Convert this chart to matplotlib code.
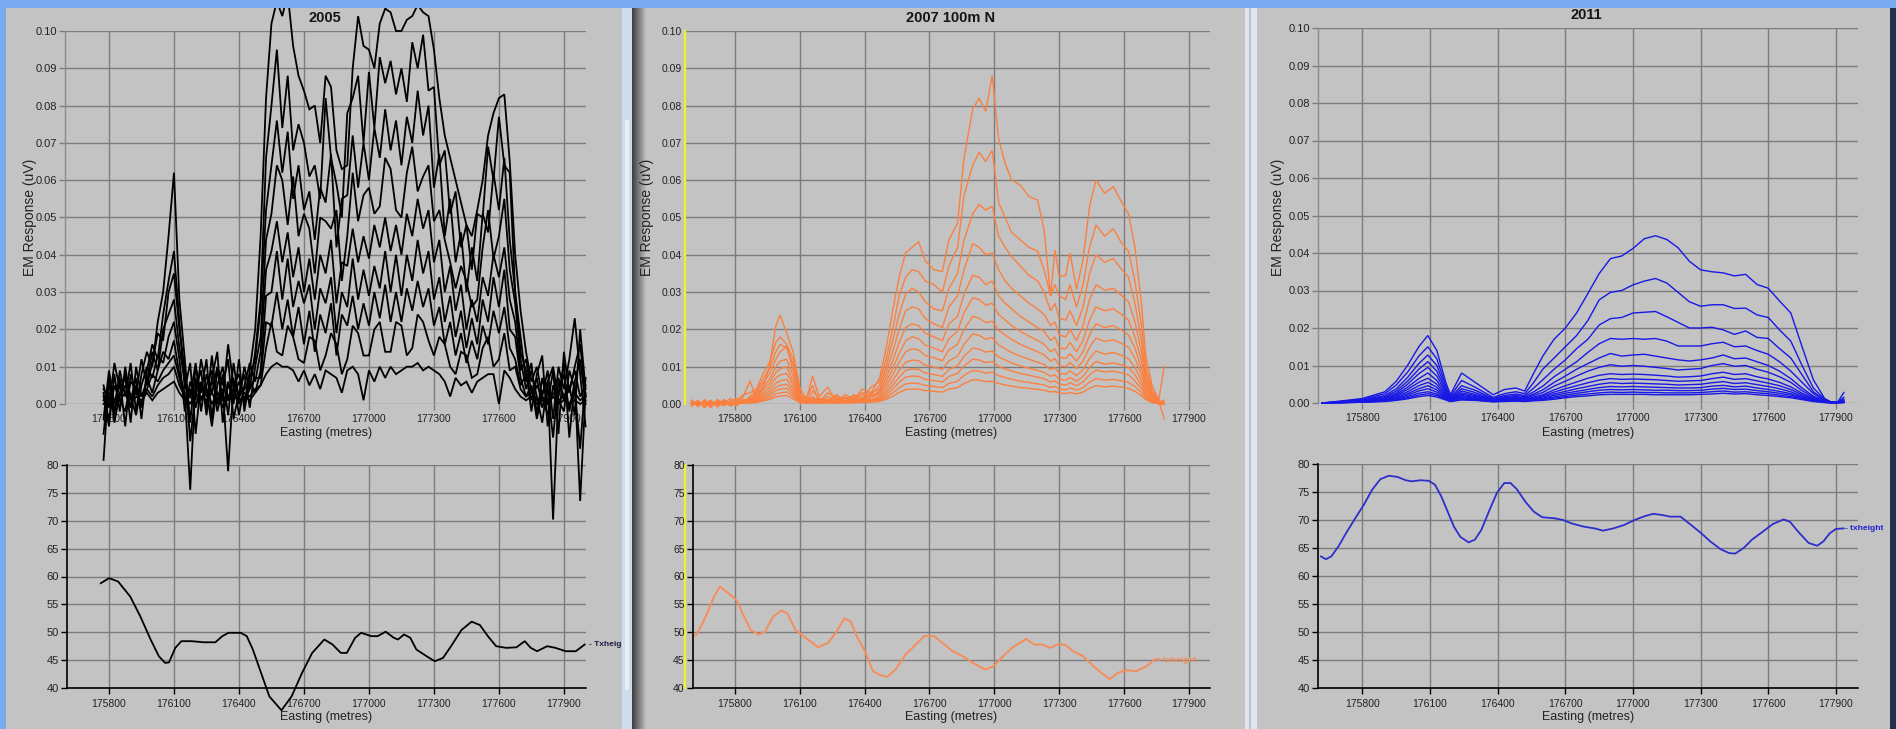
import matplotlib
matplotlib.use("Agg")
import matplotlib.pyplot as plt
from matplotlib.patches import Rectangle
from matplotlib.lines import Line2D
from matplotlib.ticker import FormatStrFormatter

plt.rcParams['font.family'] = ['Liberation Sans', 'DejaVu Sans']

W, H = 1896, 729

# ---------------- data ----------------
easting_ticks = [175800, 176100, 176400, 176700, 177000, 177300, 177600, 177900]
em_ticks = [0.00, 0.01, 0.02, 0.03, 0.04, 0.05, 0.06, 0.07, 0.08, 0.09, 0.10]
h_ticks = [40, 45, 50, 55, 60, 65, 70, 75, 80]

# 2005 EM channels, values in 1e-3 uV
e_2005 = [175775, 175800, 175825, 175850, 175875, 175900, 175925, 175950, 175975, 176000,
          176025, 176050, 176075, 176100, 176125, 176150, 176175, 176200, 176225, 176250,
          176275, 176300, 176325, 176350, 176375, 176400, 176425, 176450, 176475, 176500,
          176525, 176550, 176575, 176600, 176625, 176650, 176675, 176700, 176725, 176750,
          176775, 176800, 176825, 176850, 176875, 176900, 176925, 176950, 176975, 177000,
          177025, 177050, 177075, 177100, 177125, 177150, 177175, 177200, 177225, 177250,
          177275, 177300, 177325, 177350, 177375, 177400, 177425, 177450, 177475, 177500,
          177525, 177550, 177575, 177600, 177625, 177650, 177675, 177700, 177725, 177750,
          177775, 177800, 177825, 177850, 177875, 177900, 177925, 177950, 177975, 178000]
em05_ch1 = [-8, 6, -3, 9, 2, 11, -2, 8, 14, 10,
            22, 30, 45, 62, 28, 12, -5, 10, 3, 12,
            -4, 9, 2, 16, 5, 8, 0, 9, 20, 45,
            82, 102, 108, 104, 110, 96, 88, 84, 79, 80,
            70, 88, 85, 68, 63, 64, 90, 104, 96, 95,
            90, 102, 106, 105, 100, 100, 103, 104, 107, 105,
            104, 95, 82, 72, 66, 60, 54, 48, 45, 52,
            60, 72, 78, 82, 83, 65, 40, 25, 14, 6,
            10, 2, 9, -4, 10, 4, 12, 23, 8, -6]
em05_ch2 = [3, -6, 8, -2, 10, 1, 7, -4, 9, 16, 12, 24, 33, 41, 22, 4, 11, -8, 6, -1,
            13, 0, 8, -3, 11, 1, 10, 4, 14,
            28, 66, 80, 95, 74, 88, 68, 75, 70, 61, 64, 55, 82, 66, 59, 50, 78, 82, 88, 70,
            89, 74, 93, 86, 92, 83, 90, 81, 97, 90, 99, 84, 85, 64, 68, 51, 57, 42, 48, 36,
            51, 50, 69, 60, 77, 64, 62, 30,
            18, 6, 11, -3, 7, 0, 9, -8, 14, 3, 10, 16, 2]
em05_ch3 = [-4, 9, 0, 7, -6, 8, 3, 12, 5, 11, 19, 17, 30, 35, 20, 9, -10, 4, 9, -3,
            7, 14, -5, 6, 0, 12, -2, 7, 12,
            26, 52, 64, 76, 62, 73, 55, 64, 52, 57, 44, 58, 54, 67, 42, 55, 56, 72, 58, 70,
            60, 74, 66, 79, 68, 76, 64, 77, 70, 84, 72, 80, 58, 67, 45, 55, 38, 46, 30, 42,
            33, 51, 46, 62, 52, 66, 44, 30,
            14, 9, -2, 8, 13, -6, 5, 2, 11, -9, 6, 12, 0]
em05_ch4 = [5, -1, 11, 4, 7, -5, 10, 2, 6, 14, 9, 20, 24, 28, 15, 6, 2, 11, -2, 8,
            3, 10, 5, 12, -4, 3, 8, -1, 10,
            18, 44, 51, 64, 60, 48, 61, 45, 51, 47, 35, 50, 49, 47, 52, 33, 45, 62, 49, 56,
            58, 51, 53, 66, 63, 52, 50, 62, 69, 57, 61, 64, 49, 52, 44, 38, 31, 37, 33, 26,
            28, 42, 52, 39, 45, 55, 36, 27,
            12, 4, 9, 2, -5, 6, 10, 1, -2, 9, 4, -12, 7]
em05_ch5 = [-15, 7, -5, 3, 8, 2, -3, 5, 10, 7, 13, 11, 18, 22, 12, -2, 6, 1, 12, 4,
            -6, 5, 10, 1, 7, -3, 5, 11, 6,
            14, 36, 41, 49, 38, 46, 34, 42, 30, 39, 28, 40, 35, 44, 27, 38, 37, 47, 38, 45,
            39, 48, 42, 50, 41, 48, 40, 51, 45, 55, 47, 52, 38, 44, 30, 37, 25, 32, 20, 28,
            22, 34, 29, 40, 34, 42, 28, 22,
            9, 12, 3, 7, -1, 4, -9, 6, 2, 5, -3, 20, 4]
em05_ch6 = [2, -4, 5, 1, -2, 6, 4, -1, 7, 3, 9, 14, 12, 17, 8, 3, -23, 7, 1, 5,
            9, -2, 4, -18, 6, 2, 4, 6, 3,
            9, 29, 30, 41, 28, 39, 26, 33, 27, 32, 20, 31, 27, 34, 19, 30, 26, 39, 28, 36,
            29, 37, 31, 41, 30, 40, 29, 40, 33, 44, 35, 41, 28, 34, 22, 29, 18, 25, 15, 23,
            16, 28, 22, 34, 26, 36, 20, 18,
            7, 2, 5, -4, 3, 6, -31, 3, 8, -2, 6, -26, 3]
em05_ch7 = [4, 1, -2, 6, 3, -1, 5, 2, 4, 8, 6, 9, 11, 13, 7, 1, 4, -1, 5, 2,
            6, 3, -1, 5, 2, 6, 1, 4, 7,
            7, 22, 21, 30, 20, 28, 18, 26, 16, 25, 14, 24, 19, 27, 13, 24, 21, 29, 20, 27,
            21, 30, 23, 32, 22, 30, 22, 31, 25, 33, 26, 31, 21, 26, 16, 22, 13, 19, 11, 17,
            12, 21, 16, 25, 19, 26, 15, 12,
            5, 8, 1, 5, 2, -3, 4, 7, 1, 4, 9, 2, 5]
em05_ch8 = [1, 3, 0, 2, 5, 1, 3, 0, 4, 2, 5, 7, 8, 10, 5, 2, 0, 3, 1, 4,
            0, 3, 1, 2, 4, 0, 3, 2, 4,
            5, 15, 22, 14, 13, 21, 18, 12, 11, 18, 17, 9, 13, 19, 16, 8, 12, 21, 19, 13,
            13, 20, 22, 14, 14, 22, 21, 13, 15, 24, 22, 17, 13, 18, 16, 10, 8, 14, 13, 7,
            8, 15, 18, 10, 12, 19, 9, 10,
            4, 2, 3, 1, 2, 0, 3, 1, 2, 0, 3, 1, 2]
em05_ch9 = [0, 2, -1, 1, 3, 0, 2, 1, 3, 1,
            3, 4, 5, 6, 3, 1, 2, 0, 2, 1,
            3, 0, 2, 1, 2, 1, 2, 1, 3, 5,
            8, 10, 11, 10, 10, 9, 6, 9, 5, 8,
            4, 9, 8, 7, 3, 9, 10, 8, 1, 9,
            6, 10, 7, 10, 8, 9, 10, 10, 11, 9,
            10, 9, 8, 6, 2, 7, 5, 6, 3, 6,
            7, 8, 8, 0, 9, 7, 4, 2, 1, 2,
            0, 1, 0, 2, 0, 1, 0, 1, 0, 1]
em_2005 = [em05_ch1, em05_ch2, em05_ch3, em05_ch4, em05_ch5,
           em05_ch6, em05_ch7, em05_ch8, em05_ch9]

# 2007 EM channels, values in 1e-3 uV
e_2007 = [175600, 175630, 175660, 175690, 175720, 175750, 175780, 175810, 175840, 175870,
          175900, 175930, 175960, 175990, 176010, 176040, 176070, 176100, 176130, 176160,
          176190, 176230, 176270, 176310, 176350, 176390, 176430, 176470, 176500, 176530,
          176560, 176590, 176620, 176650, 176680, 176720, 176760, 176790, 176830, 176860,
          176900, 176930, 176960, 176990, 177020, 177050, 177080, 177120, 177160, 177200,
          177230, 177260, 177280, 177300, 177330, 177350, 177380, 177410, 177440, 177470,
          177510, 177550, 177590, 177620, 177650, 177680, 177700, 177730, 177760, 177785]
em07_ch1 = [1.0, -0.8, 1.2, -0.5, 0.8, 0.2, 1.5, 0.0, 2.0, 6.2,
            1.5, 4.0, 10.0, 21.0, 23.8, 19.0, 14.0, 4.5, 1.0, 7.5,
            2.0, 4.5, 0.5, 2.5, 1.2, 4.0, 3.0, 7.0, 15.0, 25.0,
            34.0, 40.5, 42.0, 43.5, 38.5, 36.0, 35.5, 44.0, 48.5, 66.0,
            79.0, 82.0, 78.5, 88.0, 71.0, 64.5, 60.0, 58.7, 55.6, 54.7,
            46.7, 29.0, 41.3, 34.2, 34.5, 40.5, 30.7, 38.7, 53.0, 60.0,
            56.5, 58.3, 54.0, 51.0, 42.0, 27.0, 12.8, 4.8, 1.0, 10.0]
em07_ch2 = [-0.5, 1.0, -1.0, 0.8, -0.3, 1.2, -0.2, 1.0, 2.5, 3.0,
            4.0, 8.0, 11.0, 16.5, 18.0, 16.0, 12.0, 4.0, 1.5, 5.0,
            0.5, 3.0, 1.5, 0.5, 2.5, 1.5, 4.5, 6.0, 12.0, 20.0,
            29.0, 34.0, 36.0, 35.5, 33.0, 32.0, 30.0, 37.0, 42.0, 56.0,
            64.0, 67.5, 65.0, 68.0, 54.0, 50.0, 46.0, 44.0, 42.0, 41.0,
            36.0, 29.0, 32.0, 29.0, 28.0, 32.0, 26.0, 32.0, 42.0, 48.0,
            45.0, 47.0, 43.0, 41.0, 33.0, 21.0, 10.0, 3.5, 1.0, -4.0]
em07_ch3 = [0.8, -0.6, 0.5, -1.0, 1.0, -0.4, 0.8, 1.5, 0.5, 2.0,
            3.5, 6.5, 9.5, 14.0, 16.0, 15.0, 10.5, 3.0, 0.5, 3.5,
            1.5, 1.0, 2.5, 0.8, 1.0, 3.0, 2.5, 5.0, 10.0, 17.0,
            24.0, 29.5, 31.0, 30.0, 27.5, 25.5, 25.0, 31.0, 35.0, 44.0,
            51.0, 53.5, 52.0, 53.0, 45.0, 42.0, 39.5, 37.0, 34.5, 33.0,
            30.0, 25.0, 27.0, 23.0, 22.5, 25.0, 21.0, 26.0, 35.0, 40.0,
            38.0, 39.0, 36.0, 34.0, 27.0, 17.0, 8.5, 3.0, 0.5, 1.0]
em07_ch4 = [0.0, 0.8, -0.8, 0.4, 0.0, 1.0, -0.6, 0.5, 1.2, 1.0,
            3.0, 5.5, 8.0, 12.0, 14.0, 15.5, 9.0, 2.5, 1.0, 2.0,
            0.8, 2.0, 0.5, 1.5, 2.0, 1.0, 3.0, 4.0, 8.5, 14.0,
            20.0, 25.0, 26.0, 25.5, 23.0, 21.5, 20.5, 26.0, 29.0, 36.0,
            43.0, 42.0, 40.0, 40.5, 36.0, 33.0, 31.0, 29.0, 27.0, 25.5,
            24.0, 21.0, 22.0, 18.5, 18.0, 20.0, 17.0, 21.0, 28.0, 32.0,
            30.5, 31.0, 29.0, 27.5, 22.0, 14.0, 7.0, 2.5, 0.8, 0.5]
em07_ch5 = [1.0, -0.4, 0.6, -0.6, 1.2, -0.2, 0.6, -0.4, 1.0, 1.5,
            2.5, 4.5, 6.5, 10.0, 11.5, 12.0, 7.5, 2.0, 0.5, 1.5,
            1.2, 0.8, 2.0, 0.5, 1.5, 2.5, 2.0, 3.5, 7.0, 11.5,
            16.5, 20.5, 21.5, 21.0, 19.0, 18.0, 17.0, 21.5, 23.5, 29.5,
            34.5, 34.0, 32.0, 33.0, 29.0, 27.0, 25.5, 23.5, 22.0, 20.5,
            19.5, 17.0, 18.0, 15.0, 14.8, 16.5, 14.0, 17.0, 22.5, 26.0,
            25.0, 25.5, 24.0, 22.5, 18.0, 11.5, 6.0, 2.0, 0.6, 0.0]
em07_ch6 = [-0.6, 0.6, 0.2, 1.0, -0.8, 0.6, 0.2, 0.8, 0.4, 1.2,
            2.0, 3.8, 5.5, 8.5, 9.5, 10.0, 6.0, 1.8, 1.2, 0.8,
            1.5, 0.5, 1.2, 1.8, 0.5, 1.5, 2.2, 3.0, 5.8, 9.5,
            13.5, 17.0, 18.0, 17.5, 15.8, 15.0, 14.0, 17.5, 19.5, 24.5,
            28.5, 28.0, 26.5, 27.0, 24.0, 22.5, 21.0, 19.5, 18.2, 17.0,
            16.0, 14.0, 14.8, 12.5, 12.2, 13.5, 11.5, 14.0, 18.5, 21.5,
            20.5, 21.0, 19.8, 18.5, 15.0, 9.5, 5.0, 1.6, 0.4, 0.2]
em07_ch7 = [0.4, -0.2, 0.8, -0.4, 0.4, 0.8, -0.4, 0.4, 0.8, 1.0,
            1.6, 3.0, 4.5, 7.0, 7.8, 8.2, 5.0, 1.5, 0.6, 1.2,
            0.5, 1.2, 0.4, 1.0, 1.4, 0.8, 1.8, 2.5, 4.8, 7.8,
            11.2, 14.0, 14.8, 14.5, 13.0, 12.4, 11.6, 14.5, 16.0, 20.0,
            23.5, 23.0, 21.8, 22.2, 19.8, 18.5, 17.3, 16.0, 15.0, 14.0,
            13.2, 11.5, 12.2, 10.3, 10.0, 11.1, 9.5, 11.5, 15.2, 17.7,
            16.8, 17.2, 16.2, 15.2, 12.3, 7.8, 4.1, 1.3, 0.3, 0.0]
em07_ch8 = [0.0, 0.6, -0.4, 0.6, 0.2, -0.4, 0.6, 0.2, 0.6, 0.8,
            1.3, 2.4, 3.6, 5.6, 6.2, 6.6, 4.0, 1.2, 0.8, 0.6,
            1.0, 0.4, 1.0, 0.6, 1.0, 1.2, 1.0, 2.0, 3.8, 6.2,
            9.0, 11.2, 11.8, 11.6, 10.4, 9.9, 9.3, 11.6, 12.8, 16.0,
            18.8, 18.4, 17.4, 17.8, 15.8, 14.8, 13.8, 12.8, 12.0, 11.2,
            10.6, 9.2, 9.8, 8.2, 8.0, 8.9, 7.6, 9.2, 12.2, 14.2,
            13.4, 13.8, 13.0, 12.2, 9.8, 6.2, 3.3, 1.0, 0.2, -0.2]
em07_ch9 = [0.6, 0.0, 0.4, -0.2, 0.6, 0.2, 0.0, 0.6, 0.2, 0.6,
            1.0, 1.9, 2.9, 4.5, 5.0, 5.3, 3.2, 1.0, 0.4, 0.8,
            0.4, 0.8, 0.6, 0.4, 0.8, 1.0, 1.2, 1.6, 3.0, 5.0,
            7.2, 9.0, 9.4, 9.3, 8.3, 7.9, 7.4, 9.3, 10.2, 12.8,
            15.0, 14.7, 13.9, 14.2, 12.6, 11.8, 11.0, 10.2, 9.6, 9.0,
            8.5, 7.4, 7.8, 6.6, 6.4, 7.1, 6.1, 7.4, 9.8, 11.4,
            10.7, 11.0, 10.4, 9.8, 7.8, 5.0, 2.6, 0.8, 0.2, 0.0]
em07_ch10 = [0.2, 0.4, 0.0, 0.4, 0.0, 0.4, 0.2, 0.0, 0.4, 0.5,
             0.8, 1.5, 2.3, 3.6, 4.0, 4.2, 2.6, 0.8, 0.4, 0.6,
             0.4, 0.6, 0.4, 0.6, 0.6, 0.8, 0.9, 1.3, 2.4, 4.0,
             5.8, 7.2, 7.5, 7.4, 6.6, 6.3, 5.9, 7.4, 8.2, 10.2,
             12.0, 11.8, 11.1, 11.4, 10.1, 9.4, 8.8, 8.2, 7.7, 7.2,
             6.8, 5.9, 6.2, 5.3, 5.1, 5.7, 4.9, 5.9, 7.8, 9.1,
             8.6, 8.8, 8.3, 7.8, 6.2, 4.0, 2.1, 0.6, 0.1, 0.0]
em07_ch11 = [0.2, 0.0, 0.3, 0.0, 0.3, 0.0, 0.3, 0.2, 0.2, 0.4,
             0.6, 1.1, 1.7, 2.7, 3.0, 3.2, 2.0, 0.6, 0.3, 0.4,
             0.3, 0.4, 0.3, 0.4, 0.4, 0.6, 0.7, 1.0, 1.8, 3.0,
             4.3, 5.4, 5.6, 5.5, 5.0, 4.7, 4.4, 5.5, 6.1, 7.7,
             9.0, 8.8, 8.3, 8.5, 7.6, 7.1, 6.6, 6.1, 5.8, 5.4,
             5.1, 4.4, 4.7, 4.0, 3.8, 4.3, 3.7, 4.4, 5.9, 6.8,
             6.4, 6.6, 6.2, 5.8, 4.7, 3.0, 1.6, 0.5, 0.1, 0.0]
em07_ch12 = [0.1, 0.2, 0.1, 0.2, 0.1, 0.2, 0.1, 0.2, 0.2, 0.3,
             0.4, 0.8, 1.2, 1.9, 2.1, 2.3, 1.4, 0.4, 0.2, 0.3,
             0.2, 0.3, 0.2, 0.3, 0.3, 0.4, 0.5, 0.7, 1.3, 2.1,
             3.1, 3.9, 4.0, 4.0, 3.6, 3.4, 3.2, 4.0, 4.4, 5.5,
             6.5, 6.4, 6.0, 6.1, 5.5, 5.1, 4.8, 4.4, 4.2, 3.9,
             3.7, 3.2, 3.4, 2.9, 2.8, 3.1, 2.7, 3.2, 4.2, 4.9,
             4.6, 4.8, 4.5, 4.2, 3.4, 2.2, 1.2, 0.4, 0.1, 0.0]
em_2007 = [em07_ch1, em07_ch2, em07_ch3, em07_ch4, em07_ch5, em07_ch6,
           em07_ch7, em07_ch8, em07_ch9, em07_ch10, em07_ch11, em07_ch12]

# 2011 EM channels, values in 1e-3 uV
e_2011 = [175620, 175700, 175800, 175900, 175950, 176000, 176050, 176090, 176130, 176170,
          176190, 176240, 176300, 176380, 176430, 176480, 176520, 176560, 176600, 176650,
          176700, 176750, 176800, 176850, 176900, 176950, 177000, 177050, 177100, 177150,
          177200, 177250, 177300, 177350, 177400, 177450, 177500, 177550, 177600, 177650,
          177700, 177750, 177800, 177850, 177880, 177910, 177935]
em11_ch1 = [0.0, 0.5, 1.2, 3.0, 5.8, 10.0, 15.0, 18.0, 14.0, 5.5,
            2.2, 8.0, 5.5, 2.2, 3.6, 4.0, 3.2, 8.0, 12.5, 17.0,
            20.0, 24.0, 29.2, 34.5, 38.5, 39.2, 41.2, 43.8, 44.6, 43.6,
            41.4, 37.8, 35.5, 35.0, 34.7, 33.9, 34.3, 31.6, 30.6, 27.2,
            24.0, 15.0, 6.2, 1.2, 0.2, 0.4, 2.8]
em11_ch2 = [0.0, 0.4, 1.0, 2.5, 4.8, 8.2, 12.5, 15.0, 11.8, 4.5,
            1.8, 6.0, 4.2, 1.5, 2.5, 3.0, 2.5, 5.5, 9.0, 12.0,
            15.0, 18.0, 22.0, 27.5, 29.5, 30.0, 31.5, 32.5, 33.2, 32.0,
            29.5, 27.0, 25.8, 26.2, 26.2, 25.2, 25.3, 23.5, 22.8, 19.5,
            16.5, 10.0, 4.0, 1.0, 0.2, 0.3, 1.5]
em11_ch3 = [0.0, 0.3, 0.8, 2.0, 3.8, 6.8, 10.5, 12.8, 10.0, 3.8,
            1.5, 4.6, 3.4, 1.2, 2.0, 2.4, 2.0, 4.0, 6.2, 9.0,
            11.5, 14.5, 17.0, 20.8, 22.5, 22.8, 24.0, 24.2, 24.4, 23.0,
            21.5, 20.0, 20.0, 20.2, 19.5, 18.3, 19.2, 17.5, 17.2, 14.5,
            12.0, 7.5, 3.0, 0.8, 0.2, 0.3, 1.0]
em11_ch4 = [0.0, 0.3, 0.7, 1.7, 3.2, 5.8, 9.0, 11.0, 8.5, 3.2,
            1.3, 3.8, 2.8, 1.0, 1.7, 2.0, 1.7, 3.0, 4.5, 7.0,
            9.0, 11.0, 13.5, 15.8, 17.2, 17.0, 17.2, 17.0, 17.2, 16.5,
            15.2, 15.2, 15.2, 15.8, 16.2, 15.0, 15.2, 14.0, 13.0, 11.0,
            8.5, 5.5, 2.5, 0.7, 0.2, 0.2, 0.8]
em11_ch5 = [0.0, 0.2, 0.6, 1.4, 2.7, 5.0, 7.8, 9.5, 7.2, 2.7,
            1.1, 3.2, 2.3, 0.9, 1.4, 1.7, 1.4, 2.4, 3.5, 5.5,
            7.2, 9.0, 10.5, 12.0, 13.2, 12.5, 12.8, 13.0, 12.5, 12.0,
            11.5, 11.2, 11.5, 12.0, 12.8, 11.8, 12.0, 11.0, 10.0, 8.5,
            6.5, 4.0, 1.8, 0.6, 0.1, 0.2, 0.6]
em11_ch6 = [0.0, 0.2, 0.5, 1.2, 2.3, 4.2, 6.5, 8.0, 6.0, 2.3,
            1.0, 2.7, 2.0, 0.8, 1.2, 1.5, 1.2, 2.0, 2.8, 4.5,
            5.8, 7.2, 8.5, 9.5, 10.2, 9.8, 10.0, 9.8, 9.5, 9.2,
            8.8, 9.0, 9.2, 10.0, 10.5, 9.8, 10.0, 9.0, 8.2, 7.0,
            5.5, 3.3, 1.5, 0.5, 0.1, 0.2, 0.5]
em11_ch7 = [0.0, 0.2, 0.4, 1.0, 2.0, 3.6, 5.5, 6.6, 5.0, 2.0,
            0.9, 2.3, 1.7, 0.7, 1.0, 1.3, 1.0, 1.6, 2.2, 3.5,
            4.6, 5.6, 6.6, 7.4, 7.8, 7.6, 7.7, 7.6, 7.4, 7.2,
            6.9, 7.0, 7.2, 7.8, 8.2, 7.6, 7.8, 7.0, 6.4, 5.5,
            4.3, 2.6, 1.2, 0.4, 0.1, 0.2, 0.4]
em11_ch8 = [0.0, 0.1, 0.4, 0.9, 1.7, 3.0, 4.6, 5.5, 4.2, 1.7,
            0.8, 2.0, 1.5, 0.6, 0.9, 1.1, 0.9, 1.3, 1.9, 2.9,
            3.8, 4.6, 5.4, 6.1, 6.5, 6.3, 6.4, 6.3, 6.2, 6.0,
            5.8, 5.9, 6.0, 6.5, 6.9, 6.3, 6.5, 5.9, 5.3, 4.6,
            3.6, 2.2, 1.0, 0.3, 0.1, 0.1, 0.3]
em11_ch9 = [0.0, 0.1, 0.3, 0.8, 1.4, 2.5, 3.8, 4.6, 3.5, 1.5,
            0.7, 1.7, 1.3, 0.5, 0.8, 0.9, 0.8, 1.1, 1.6, 2.4,
            3.1, 3.8, 4.4, 5.0, 5.4, 5.2, 5.3, 5.2, 5.1, 5.0,
            4.8, 4.9, 5.0, 5.4, 5.7, 5.2, 5.4, 4.9, 4.4, 3.8,
            3.0, 1.8, 0.8, 0.3, 0.1, 0.1, 0.2]
em11_ch10 = [0.0, 0.1, 0.3, 0.7, 1.2, 2.1, 3.2, 3.8, 2.9, 1.3,
             0.6, 1.4, 1.1, 0.5, 0.7, 0.8, 0.7, 0.9, 1.3, 2.0,
             2.6, 3.1, 3.6, 4.1, 4.4, 4.3, 4.4, 4.3, 4.2, 4.1,
             4.0, 4.0, 4.1, 4.5, 4.7, 4.3, 4.5, 4.0, 3.6, 3.1,
             2.5, 1.5, 0.7, 0.2, 0.1, 0.1, 0.2]
em11_ch11 = [0.0, 0.1, 0.2, 0.6, 1.0, 1.7, 2.6, 3.0, 2.4, 1.1,
             0.5, 1.2, 0.9, 0.4, 0.6, 0.7, 0.6, 0.8, 1.1, 1.6,
             2.1, 2.6, 3.0, 3.4, 3.6, 3.5, 3.6, 3.5, 3.4, 3.4,
             3.3, 3.3, 3.4, 3.7, 3.9, 3.6, 3.7, 3.3, 3.0, 2.6,
             2.1, 1.3, 0.6, 0.2, 0.1, 0.1, 0.2]
em11_ch12 = [0.0, 0.1, 0.2, 0.5, 0.8, 1.4, 2.1, 2.5, 2.0, 0.9,
             0.4, 1.0, 0.8, 0.4, 0.5, 0.6, 0.5, 0.7, 0.9, 1.3,
             1.7, 2.1, 2.4, 2.7, 2.9, 2.8, 2.9, 2.8, 2.8, 2.7,
             2.7, 2.7, 2.8, 3.0, 3.2, 2.9, 3.0, 2.7, 2.5, 2.1,
             1.7, 1.1, 0.5, 0.2, 0.1, 0.1, 0.1]
em11_ch13 = [0.0, 0.1, 0.2, 0.4, 0.7, 1.1, 1.7, 2.0, 1.6, 0.8,
             0.4, 0.8, 0.7, 0.3, 0.4, 0.5, 0.4, 0.6, 0.7, 1.0,
             1.4, 1.7, 1.9, 2.2, 2.3, 2.3, 2.3, 2.3, 2.2, 2.2,
             2.2, 2.2, 2.3, 2.4, 2.6, 2.4, 2.5, 2.2, 2.0, 1.7,
             1.4, 0.9, 0.4, 0.1, 0.0, 0.1, 0.1]
em_2011 = [em11_ch1, em11_ch2, em11_ch3, em11_ch4, em11_ch5, em11_ch6, em11_ch7,
           em11_ch8, em11_ch9, em11_ch10, em11_ch11, em11_ch12, em11_ch13]

# transmitter heights (m)
h05_e = [175762, 175800, 175842, 175898, 175945, 175992, 176030, 176059, 176077, 176106,
         176134, 176181, 176238, 176291, 176323, 176351, 176408, 176436, 176464, 176502,
         176540, 176596, 176643, 176691, 176738, 176794, 176832, 176870, 176898, 176936,
         176964, 177011, 177040, 177077, 177115, 177134, 177162, 177191, 177219, 177266,
         177304, 177342, 177379, 177427, 177474, 177512, 177549, 177587, 177634, 177681,
         177719, 177747, 177776, 177823, 177861, 177908, 177955, 177996]
h05 = [58.8, 59.7, 59.1, 56.4, 52.8, 48.7, 45.7, 44.5, 44.6, 47.2,
       48.4, 48.4, 48.2, 48.2, 49.3, 49.9, 49.9, 49.3, 46.9, 42.7,
       38.5, 36.0, 38.5, 42.7, 46.3, 48.7, 47.8, 46.3, 46.3, 49.0,
       49.9, 49.3, 49.3, 50.1, 49.0, 48.7, 49.6, 49.0, 46.9, 45.7,
       44.8, 45.4, 47.5, 50.4, 51.9, 51.3, 49.3, 47.5, 47.2, 47.3,
       48.4, 47.2, 46.6, 47.5, 47.2, 46.6, 46.6, 47.8]
h07_e = [175606, 175628, 175666, 175704, 175732, 175770, 175808, 175836, 175874, 175911,
         175940, 175977, 176015, 176043, 176081, 176128, 176185, 176232, 176270, 176307,
         176336, 176364, 176402, 176439, 176468, 176505, 176543, 176590, 176637, 176675,
         176722, 176760, 176807, 176854, 176901, 176958, 176996, 177033, 177081, 177118,
         177147, 177184, 177222, 177260, 177288, 177326, 177364, 177411, 177458, 177496,
         177533, 177571, 177609, 177656, 177703, 177741, 177763]
h07 = [49.0, 49.9, 52.8, 56.4, 58.2, 57.0, 55.8, 53.4, 50.4, 49.6,
       50.1, 52.8, 53.9, 53.4, 50.4, 49.0, 47.3, 48.1, 50.1, 52.5,
       51.9, 49.3, 46.6, 43.0, 42.4, 42.0, 43.3, 46.0, 47.8, 49.3,
       49.3, 48.1, 46.6, 45.7, 44.5, 43.3, 43.9, 45.4, 47.2, 48.1,
       48.8, 47.8, 47.8, 47.2, 47.8, 47.8, 46.6, 45.7, 43.9, 42.7,
       41.6, 42.7, 43.2, 43.0, 43.9, 45.1, 45.2]
h11_e = [175616, 175638, 175662, 175694, 175731, 175768, 175806, 175843, 175880, 175917,
         175955, 175992, 176020, 176057, 176094, 176122, 176150, 176178, 176206, 176234,
         176271, 176299, 176327, 176364, 176396, 176429, 176457, 176485, 176522, 176560,
         176597, 176653, 176690, 176727, 176783, 176830, 176867, 176913, 176960, 177007,
         177053, 177090, 177128, 177165, 177211, 177258, 177304, 177342, 177388, 177426,
         177453, 177491, 177528, 177575, 177621, 177668, 177696, 177733, 177779, 177817,
         177845, 177872, 177900, 177934]
h11 = [63.5, 63.0, 63.5, 65.3, 67.9, 70.3, 72.7, 75.4, 77.3, 77.9,
       77.7, 77.1, 76.9, 77.1, 77.0, 76.3, 74.2, 71.5, 68.8, 67.0,
       66.0, 66.5, 68.2, 71.8, 74.8, 76.6, 76.6, 75.5, 73.3, 71.5,
       70.5, 70.3, 70.0, 69.4, 68.8, 68.5, 68.1, 68.5, 69.1, 70.0,
       70.7, 71.1, 70.9, 70.6, 70.6, 69.1, 67.6, 66.2, 64.8, 64.1,
       64.0, 65.0, 66.5, 67.9, 69.3, 70.1, 69.7, 67.9, 65.9, 65.4,
       66.2, 67.6, 68.4, 68.5]

# ---------------- figure ----------------
fig = plt.figure(figsize=(W / 100, H / 100), dpi=100)
fig.patch.set_facecolor('#79a9ee')


def fx(x):
    return x / W


def fy(y):
    return 1 - y / H


def box(x0, y0, x1, y1, color, z=-10, add=True):
    r = Rectangle((fx(x0), fy(y1)), (x1 - x0) / W, (y1 - y0) / H,
                  transform=fig.transFigure, facecolor=color, edgecolor='none', zorder=z)
    if add:
        fig.add_artist(r)
    return r


# window backgrounds
box(6, 8, 622, 729, '#c3c3c3')
box(622, 8, 632, 729, '#cfdceb')
box(625, 120, 629, 690, '#e8eff7', z=-9)
box(632, 8, 1245, 729, '#c3c3c3')
for k in range(14):
    g = 0.25 + k * 0.037
    box(632 + k, 8, 633 + k, 729, (g, g, g), z=-9)
box(1245, 8, 1257, 729, '#dfe6ee')
box(1249, 8, 1251, 729, '#b8c4d2', z=-9)
box(1257, 8, 1890, 729, '#c3c3c3')
box(1890, 8, 1896, 729, '#22304c')

clip_1 = box(6, 8, 622, 729, 'none', add=False)
clip_2 = box(632, 8, 1245, 729, 'none', add=False)
clip_3 = box(1257, 8, 1890, 729, 'none', add=False)


def px_axes(x0, y0, x1, y1, z):
    ax = fig.add_axes([fx(x0), fy(y1), (x1 - x0) / W, (y1 - y0) / H])
    ax.set_zorder(z)
    ax.patch.set_visible(False)
    return ax


def style_em(ax, xlim, spine_col, spine_w=1.0, ytick_len=4):
    ax.set_xlim(*xlim)
    ax.set_ylim(0, 0.10)
    ax.set_xticks(easting_ticks)
    ax.set_yticks(em_ticks)
    ax.yaxis.set_major_formatter(FormatStrFormatter('%.2f'))
    ax.grid(True, color='#7c7c7c', lw=1)
    ax.set_axisbelow(True)
    for s in ['top', 'right', 'bottom']:
        ax.spines[s].set_visible(False)
    ax.spines['left'].set_color(spine_col)
    ax.spines['left'].set_linewidth(spine_w)
    ax.tick_params(direction='out', length=4, width=1, color='#7c7c7c',
                   labelcolor='#222222', labelsize=8)
    ax.tick_params(axis='y', pad=1.5, length=ytick_len)
    ax.tick_params(axis='x', pad=3.5, labelsize=7.5)


def style_h(ax, xlim):
    ax.set_xlim(*xlim)
    ax.set_ylim(40, 80)
    ax.set_xticks(easting_ticks)
    ax.set_yticks(h_ticks)
    ax.grid(True, color='#7c7c7c', lw=1)
    ax.set_axisbelow(True)
    for s in ['top', 'right']:
        ax.spines[s].set_visible(False)
    for s in ['left', 'bottom']:
        ax.spines[s].set_color('black')
        ax.spines[s].set_linewidth(1.2)
    ax.tick_params(direction='out', length=4, width=1, color='black',
                   labelcolor='#222222', labelsize=8)
    ax.tick_params(axis='y', pad=2)
    ax.tick_params(axis='x', pad=4, labelsize=7.5)


def draw_em(ax, east, chans, color, lw, clip):
    for ch in chans:
        vals = [v * 1e-3 for v in ch]
        ln, = ax.plot(east, vals, color=color, lw=lw, solid_joinstyle='miter')
        ln.set_clip_path(clip)


# panel 1: 2005
ax1 = px_axes(65, 31, 586, 404, 3)
style_em(ax1, (175597, 178002), '#8a8a8a')
draw_em(ax1, e_2005, em_2005, 'black', 1.3, clip_1)
ax1h = px_axes(67, 465, 586, 688, 2)
style_h(ax1h, (175606, 178002))
ax1h.plot(h05_e, h05, color='black', lw=1.3, clip_on=False)

# panel 2: 2007 100m N
ax2 = px_axes(685, 31, 1210, 404, 3)
style_em(ax2, (175570, 177997), '#f4f02a', 1.6, ytick_len=1)
ax2.tick_params(axis='y', labelsize=7.5, pad=1)
draw_em(ax2, e_2007, em_2007, '#fb8040', 1.0, clip_2)
ax2h = px_axes(693, 465, 1210, 688, 2)
style_h(ax2h, (175607, 177997))
ax2h.tick_params(axis='y', labelsize=7.5)
ax2h.plot(h07_e, h07, color='#f68d5a', lw=1.4, clip_on=False)
fig.add_artist(Line2D([fx(685), fx(685)], [fy(465), fy(688)], transform=fig.transFigure,
                      color='#f4f02a', lw=1.6))

# panel 3: 2011
ax3 = px_axes(1318, 28, 1858, 403, 3)
style_em(ax3, (175603, 177998), '#8a8a8a')
draw_em(ax3, e_2011, em_2011, '#1818e6', 1.0, clip_3)
ax3h = px_axes(1318, 464, 1858, 688, 2)
style_h(ax3h, (175603, 177998))
ax3h.plot(h11_e, h11, color='#2e2ecc', lw=1.3, clip_on=False)

# titles and axis labels
for x, y, s in [(325, 18, '2005'), (951, 18, '2007 100m N'), (1586, 15, '2011')]:
    fig.text(fx(x), fy(y), s, ha='center', va='center', fontsize=10.5,
             fontweight='bold', color='#151515', zorder=20)
for x in [30, 647, 1278]:
    fig.text(fx(x), fy(217), 'EM Response (uV)', rotation=90, ha='center', va='center',
             fontsize=10, color='#222222', zorder=1)
for xc in [326, 951, 1588]:
    fig.text(fx(xc), fy(433), 'Easting (metres)', ha='center', va='center',
             fontsize=9, color='#222222', zorder=1)
    fig.text(fx(xc), fy(717), 'Easting (metres)', ha='center', va='center',
             fontsize=9, color='#222222', zorder=1)

# height series labels
t1 = fig.text(fx(589), fy(645), '- Txheight', ha='left', va='center', fontsize=6,
              fontweight='bold', color='#1c1c44', zorder=20)
t1.set_clip_path(clip_1)
fig.text(fx(1158), fy(660), '- txheight', ha='left', va='center', fontsize=6,
         fontweight='bold', color='#f68d5a', zorder=20)
fig.text(fx(1845), fy(529), '- txheight', ha='left', va='center', fontsize=6,
         fontweight='bold', color='#2020d0', zorder=20)

fig.savefig('out.png', dpi=100, facecolor=fig.get_facecolor())
